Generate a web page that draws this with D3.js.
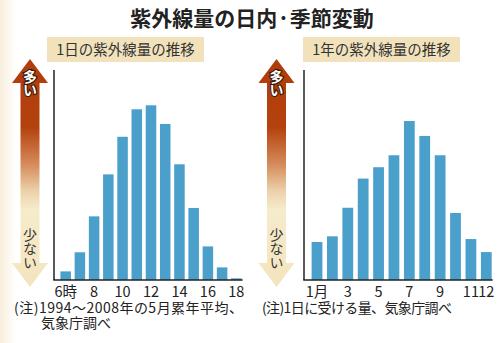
<!DOCTYPE html>
<html><head><meta charset="utf-8">
<script src="https://cdn.jsdelivr.net/npm/d3@7"></script>
<style>
html,body{margin:0;padding:0;background:#fff;}
svg{display:block;}
text{font-family:"Noto Sans CJK JP","Noto Sans",sans-serif;}
.vt{writing-mode:vertical-rl;text-orientation:upright;}
</style></head>
<body>
<script>
// ---- data ----
const hours = [6,7,8,9,10,11,12,13,14,15,16,17,18];
const hourValues = [4.1,13.2,30.3,50.3,68.2,81.3,83.2,74.3,55.1,34.3,16.0,6.0,0.8];
const hourTicks = [6,8,10,12,14,16,18];
const hourTickLabels = ["6時","8","10","12","14","16","18"];

const months = [1,2,3,4,5,6,7,8,9,10,11,12];
const monthValues = [18.1,20.8,34.4,48.3,53.7,59.4,75.7,68.6,59.4,31.9,19.5,13.3];
const monthTicks = [1,3,5,7,9,11,12];
const monthTickLabels = ["1月","3","5","7","9","11","12"];

const title = "紫外線量の日内·季節変動";
const subLeft = "1日の紫外線量の推移";
const subRight = "1年の紫外線量の推移";
const noteLeft = ["(注)1994～2008年の5月累年平均、","気象庁調べ"];
const noteRight = ["(注)1日に受ける量、気象庁調べ"];
const arrowTop = "多い";
const arrowBottom = "少ない";

// ---- drawing ----
const W = 500, H = 343;
const LATIN = '"Liberation Sans","Noto Sans CJK JP",sans-serif';
const svg = d3.select("body").append("svg").attr("width", W).attr("height", H);
const defs = svg.append("defs");
const grad = defs.append("linearGradient").attr("id","ag")
  .attr("x1",0).attr("y1",0).attr("x2",0).attr("y2",1)
  .attr("gradientUnits","objectBoundingBox");
[[0,"#b03c0a"],[0.3,"#b4420e"],[0.46,"#d58a5a"],[0.58,"#ecd2aa"],[0.66,"#f6ebcb"],[1,"#f3e4bd"]]
  .forEach(([o,c]) => grad.append("stop").attr("offset",o).attr("stop-color",c));
const edge = defs.append("linearGradient").attr("id","eg")
  .attr("x1",0).attr("y1",0).attr("x2",1).attr("y2",0);
edge.append("stop").attr("offset",0).attr("stop-color","#f8eedb");
edge.append("stop").attr("offset",1).attr("stop-color","#ffffff");
svg.append("rect").attr("x",0).attr("y",0).attr("width",16).attr("height",H).attr("fill","url(#eg)");

const BAR = "#4aa0cb";
const y = d3.scaleLinear().domain([0,100]).range([280,70]);

svg.append("text").attr("x",252).attr("y",26).attr("text-anchor","middle")
  .attr("font-size",21).attr("font-weight","bold").attr("fill","#222").text(title);

function panel(opt){
  const g = svg.append("g");
  // subtitle box
  g.append("rect").attr("x",opt.boxX).attr("y",37).attr("width",opt.boxW).attr("height",25).attr("fill","#f1e2bc");
  g.append("text").attr("x",opt.boxX+opt.boxW/2).attr("y",55).attr("text-anchor","middle")
    .attr("font-size",14.5).attr("fill","#333").text(opt.sub);

  // arrow
  const cx = opt.ax, sw = 9.5, hw = 18, t = 59, hb = 83, bb = 263, b = 287;
  const pts = [[cx,t],[cx+hw,hb],[cx+sw,hb],[cx+sw,bb],[cx+hw,bb],[cx,b],[cx-hw,bb],[cx-sw,bb],[cx-sw,hb],[cx-hw,hb]];
  g.append("path").attr("d", d3.line()(pts)+"Z").attr("fill","url(#ag)");
  g.append("text").attr("class","vt").attr("x",cx).attr("y",70)
    .attr("font-size",14).attr("font-weight","bold").attr("fill","#fff")
    .attr("letter-spacing",-1.5)
    .attr("stroke","#3a1a08").attr("stroke-width",2.2).attr("paint-order","stroke")
    .text(arrowTop);
  g.append("text").attr("class","vt").attr("x",cx).attr("y",228)
    .attr("font-size",14).attr("fill","#333").text(arrowBottom);

  const x = d3.scaleBand().domain(opt.cats).range(opt.range)
    .paddingInner(opt.pi).paddingOuter(opt.po);

  g.selectAll("rect.bar").data(opt.cats).join("rect").attr("class","bar")
    .attr("x",d=>x(d)).attr("width",x.bandwidth())
    .attr("y",(d,i)=>y(opt.vals[i])).attr("height",(d,i)=>y(0)-y(opt.vals[i]))
    .attr("fill",BAR);

  // axes lines
  const lastRight = x(opt.cats[opt.cats.length-1]) + x.bandwidth() + 1;
  g.append("line").attr("x1",opt.axisX).attr("x2",opt.axisX).attr("y1",y(100)).attr("y2",y(0))
    .attr("stroke","#222").attr("stroke-width",1.5);
  g.append("line").attr("x1",opt.axisX-0.75).attr("x2",lastRight).attr("y1",y(0)).attr("y2",y(0))
    .attr("stroke","#222").attr("stroke-width",1.5);

  const ax = g.append("g").attr("transform",`translate(0,${y(0)})`)
    .call(d3.axisBottom(x).tickValues(opt.ticks).tickSize(0)
      .tickFormat(d=>opt.tickLabels[opt.ticks.indexOf(d)]));
  ax.select(".domain").remove();
  ax.selectAll("text").attr("y",16.5).attr("dy",0).attr("font-size",14.5)
    .attr("font-family",LATIN).attr("fill","#222");

  opt.notes.forEach((n,i)=>{
    const ts = g.append("text").attr("font-size",14).attr("fill","#222")
      .attr("font-family",LATIN)
      .attr("x",opt.noteX + (i>0?opt.noteIndent:0))
      .attr("y",312.6 + i*15.7).text(n);
    if (i===0) ts.attr("textLength",opt.noteW).attr("lengthAdjust","spacing");
  });
}

panel({cats:hours, vals:hourValues, ticks:hourTicks, tickLabels:hourTickLabels,
  range:[57,245], pi:0.26, po:0.24, axisX:54, ax:30, boxX:47, boxW:157, sub:subLeft,
  notes:noteLeft, noteX:14, noteIndent:27, noteW:229});
panel({cats:months, vals:monthValues, ticks:monthTicks, tickLabels:monthTickLabels,
  range:[307,496.3], pi:0.30, po:0.30, axisX:304, ax:276.5, boxX:303, boxW:157, sub:subRight,
  notes:noteRight, noteX:262, noteIndent:0, noteW:190});
</script>
</body></html>
